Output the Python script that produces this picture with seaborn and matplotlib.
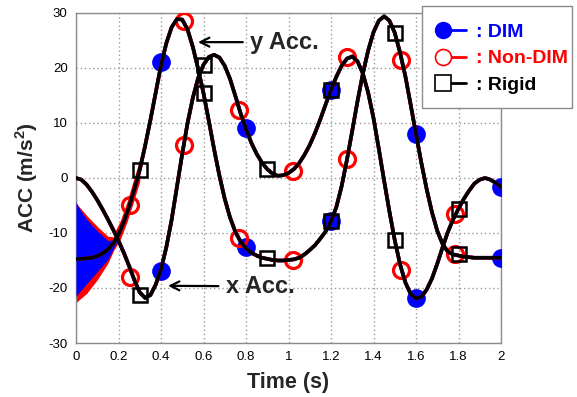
import numpy as np
import matplotlib
matplotlib.use("Agg")
import matplotlib.pyplot as plt
import seaborn as sns
from matplotlib.lines import Line2D
from matplotlib.patches import Rectangle
from matplotlib.legend_handler import HandlerBase

# ---------------- data ----------------
t = [0.000, 0.025, 0.050, 0.075, 0.100, 0.125, 0.150, 0.175, 0.200, 0.225,
     0.250, 0.275, 0.300, 0.325, 0.350, 0.375, 0.400, 0.425, 0.450, 0.475,
     0.500, 0.525, 0.550, 0.575, 0.600, 0.625, 0.650, 0.675, 0.700, 0.725,
     0.750, 0.775, 0.800, 0.825, 0.850, 0.875, 0.900, 0.925, 0.950, 0.975,
     1.000, 1.025, 1.050, 1.075, 1.100, 1.125, 1.150, 1.175, 1.200, 1.225,
     1.250, 1.275, 1.300, 1.325, 1.350, 1.375, 1.400, 1.425, 1.450, 1.475,
     1.500, 1.525, 1.550, 1.575, 1.600, 1.625, 1.650, 1.675, 1.700, 1.725,
     1.750, 1.775, 1.800, 1.825, 1.850, 1.875, 1.900, 1.925, 1.950, 1.975,
     2.000]

x_acc = [0.0, -0.3, -1.2, -2.5, -4.0, -5.7, -7.5, -9.4, -11.4, -13.6,
         -16.0, -18.6, -20.8, -21.8, -21.3, -19.4, -16.6, -12.6, -7.6, -1.6,
         4.4, 10.0, 14.6, 18.2, 20.6, 22.0, 22.4, 21.9, 20.4, 18.0,
         14.9, 11.7, 8.9, 6.4, 4.4, 2.8, 1.6, 0.8, 0.4, 0.5,
         0.9, 1.6, 2.7, 4.2, 6.0, 8.2, 10.7, 13.4, 16.0, 18.4,
         20.4, 21.7, 22.1, 21.2, 19.0, 15.5, 10.9, 5.3, -0.5, -6.1,
         -11.3, -15.7, -19.0, -21.1, -21.9, -21.6, -20.3, -18.3, -15.6, -12.6,
         -9.8, -7.5, -5.6, -3.8, -2.3, -1.0, -0.3, 0.0, -0.3, -0.9,
         -1.6]

y_acc = [-14.7, -14.7, -14.6, -14.5, -14.2, -13.7, -13.0, -11.9, -10.3, -8.0,
         -5.2, -2.0, 1.5, 5.8, 10.5, 15.5, 20.5, 24.5, 27.4, 28.9,
         28.8, 27.0, 23.8, 19.8, 15.4, 10.4, 5.2, 0.4, -3.8, -7.2,
         -9.8, -11.6, -12.8, -13.6, -14.1, -14.5, -14.7, -14.9, -15.0, -15.0,
         -14.9, -14.8, -14.5, -13.9, -13.1, -12.2, -11.0, -9.7, -7.9, -5.3,
         -1.5, 3.3, 8.6, 14.0, 19.0, 23.2, 26.5, 28.6, 29.4, 28.6,
         26.4, 22.8, 18.5, 13.3, 8.0, 2.8, -2.0, -6.2, -9.6, -12.0,
         -13.4, -13.9, -14.1, -14.3, -14.4, -14.5, -14.5, -14.5, -14.5, -14.5,
         -14.5]

# initial high-frequency oscillation band (envelopes)
t_band = [0.0, 0.01, 0.05, 0.10, 0.15, 0.20]
red_hi = [-4.5, -5.0, -6.8, -8.8, -10.6, -10.8]
red_lo = [-22.7, -22.3, -21.0, -18.5, -15.5, -11.2]
blue_hi = [-4.3, -5.2, -7.5, -9.6, -11.4, -11.0]
blue_lo = [-21.5, -21.0, -19.2, -17.0, -14.8, -11.0]
# residual Non-DIM ripple along the rising y curve
t_ripple = [0.18, 0.21, 0.24, 0.27, 0.30]
ripple_hi = [-10.0, -7.6, -4.3, -0.4, 3.4]
ripple_lo = [-13.0, -11.0, -8.0, -4.4, -0.6]

# marker samples
dim_t = [0.4, 0.8, 1.2, 1.6, 2.0]
dim_x = [-17.0, 9.1, 16.0, -21.9, -1.6]
dim_y = [21.0, -12.5, -7.9, 8.0, -14.5]

non_t = [0.255, 0.51, 0.765, 1.02, 1.275, 1.53, 1.785]
non_x = [-18.0, 6.0, 12.4, 1.3, 22.0, -16.7, -6.5]
non_y = [-4.9, 28.5, -10.9, -14.9, 3.5, 21.5, -13.9]

rig_t = [0.3, 0.6, 0.9, 1.2, 1.5, 1.8]
rig_x = [-21.3, 20.5, 1.6, 16.0, -11.3, -5.6]
rig_y = [1.5, 15.4, -14.6, -7.9, 26.4, -13.9]

x_ticks = [0, 0.2, 0.4, 0.6, 0.8, 1, 1.2, 1.4, 1.6, 1.8, 2]
x_tick_labels = ["0", "0.2", "0.4", "0.6", "0.8", "1", "1.2", "1.4", "1.6", "1.8", "2"]
y_ticks = [-30, -20, -10, 0, 10, 20, 30]
y_tick_labels = ["-30", "-20", "-10", "0", "10", "20", "30"]

legend_labels = [": DIM", ": Non-DIM", ": Rigid"]

# ---------------- style ----------------
sns.set_style("white")
plt.rcParams["font.family"] = ["Liberation Sans", "DejaVu Sans"]
plt.rcParams["axes.unicode_minus"] = False
plt.rcParams["mathtext.fontset"] = "custom"
plt.rcParams["mathtext.rm"] = "Liberation Sans"
plt.rcParams["mathtext.bf"] = "Liberation Sans:bold"

BLUE = "#0000FF"
RED = "#FF0000"
BLACK = "#000000"
GRAY = "#8C8C8C"
LW = 2.6
W, H = 577, 397
AX_L, AX_R, AX_T, AX_B = 76, 501, 13, 343

fig = plt.figure(figsize=(W / 100, H / 100), dpi=100)
ax = fig.add_axes([AX_L / W, 1 - AX_B / H, (AX_R - AX_L) / W, (AX_B - AX_T) / H])


def px_to_axes(px, py):
    return (px - AX_L) / (AX_R - AX_L), (AX_B - py) / (AX_B - AX_T)


# oscillation bands
ax.fill_between(t_band, red_lo, red_hi, color=RED, lw=0, zorder=2)
ax.fill_between(t_ripple, ripple_lo, ripple_hi, color=RED, lw=0, zorder=2)
ax.fill_between(t_band, blue_lo, blue_hi, color=BLUE, lw=0, zorder=3)

# DIM lines + markers
for yy in (x_acc, y_acc):
    sns.lineplot(x=t, y=yy, color=BLUE, lw=LW, estimator=None, sort=False, ax=ax, zorder=3)
for yy in (dim_x, dim_y):
    sns.lineplot(x=dim_t, y=yy, ax=ax, estimator=None, sort=False, linestyle="none",
                 marker="o", markersize=13.5, markerfacecolor=BLUE, markeredgecolor=BLUE,
                 markeredgewidth=0, color=BLUE, zorder=4)
# Non-DIM lines + markers
for yy in (x_acc, y_acc):
    sns.lineplot(x=t, y=yy, color=RED, lw=LW, estimator=None, sort=False, ax=ax, zorder=5)
for yy in (non_x, non_y):
    sns.lineplot(x=non_t, y=yy, ax=ax, estimator=None, sort=False, linestyle="none",
                 marker="o", markersize=11.5, markerfacecolor="none", markeredgecolor=RED,
                 markeredgewidth=2.3, color=RED, zorder=6)
# Rigid lines + markers
for yy in (x_acc, y_acc):
    sns.lineplot(x=t, y=yy, color=BLACK, lw=LW, estimator=None, sort=False, ax=ax, zorder=7)
for yy in (rig_x, rig_y):
    sns.lineplot(x=rig_t, y=yy, ax=ax, estimator=None, sort=False, linestyle="none",
                 marker="s", markersize=10, markerfacecolor="none", markeredgecolor=BLACK,
                 markeredgewidth=1.8, color=BLACK, zorder=8)

# axes
ax.set_xlim(0, 2)
ax.set_ylim(-30, 30)
ax.set_xticks(x_ticks)
ax.set_xticklabels(x_tick_labels)
ax.set_yticks(y_ticks)
ax.set_yticklabels(y_tick_labels)
ax.tick_params(direction="in", length=4, color=GRAY, labelsize=9.5, pad=6, labelcolor="black")
ax.grid(True, color="#999999", linestyle=(0, (1, 2)), linewidth=1)
for sp in ax.spines.values():
    sp.set_color(GRAY)
    sp.set_linewidth(1)
    sp.set_visible(True)

ax.set_xlabel("Time (s)", fontsize=15.5, fontweight="bold", labelpad=6)
ax.set_ylabel(r"ACC (m/s$^\mathbf{2}$)", fontsize=15, fontweight="bold", labelpad=6)

# annotations
ax.annotate("y Acc.", xy=(0.574, 24.7), xytext=(0.82, 24.7), fontsize=17, fontweight="bold",
            ha="left", va="center", zorder=10,
            arrowprops=dict(arrowstyle="->", color="black", lw=1.6, mutation_scale=16,
                            shrinkA=3, shrinkB=0))
ax.annotate("x Acc.", xy=(0.433, -19.6), xytext=(0.705, -19.7), fontsize=17, fontweight="bold",
            ha="left", va="center", zorder=10,
            arrowprops=dict(arrowstyle="->", color="black", lw=1.6, mutation_scale=16,
                            shrinkA=3, shrinkB=0))


# legend: marker at the left end of a short line
class LeftMarkerHandler(HandlerBase):
    def create_artists(self, legend, orig_handle, xdescent, ydescent, width, height,
                       fontsize, trans):
        y = height / 2 - ydescent
        x0 = -xdescent + 0.395 * width
        line = Line2D([x0, -xdescent + width], [y, y], color=orig_handle.get_color(),
                      lw=orig_handle.get_linewidth())
        mk = Line2D([x0], [y], linestyle="none", marker=orig_handle.get_marker(),
                    markersize=orig_handle.get_markersize(),
                    markerfacecolor=orig_handle.get_markerfacecolor(),
                    markeredgecolor=orig_handle.get_markeredgecolor(),
                    markeredgewidth=orig_handle.get_markeredgewidth())
        line.set_transform(trans)
        mk.set_transform(trans)
        return [line, mk]


# legend frame box (drawn separately for asymmetric padding)
bx0, by0 = px_to_axes(422, 108)
bx1, by1 = px_to_axes(572, 6)
ax.add_patch(Rectangle((bx0, by0), bx1 - bx0, by1 - by0, transform=ax.transAxes,
                       facecolor="white", edgecolor=GRAY, lw=1, clip_on=False, zorder=19))

handles = [
    Line2D([], [], color=BLUE, lw=2, marker="o", markersize=11.5,
           markerfacecolor=BLUE, markeredgecolor=BLUE, markeredgewidth=1),
    Line2D([], [], color=RED, lw=2, marker="o", markersize=11.5,
           markerfacecolor="white", markeredgecolor=RED, markeredgewidth=1.2),
    Line2D([], [], color=BLACK, lw=2, marker="s", markersize=11,
           markerfacecolor="white", markeredgecolor=BLACK, markeredgewidth=1.2),
]
lx, ly = px_to_axes(428, 23)
leg = ax.legend(handles, legend_labels, loc="upper left", bbox_to_anchor=(lx, ly),
                borderaxespad=0, frameon=False, prop={"weight": "bold", "size": 14},
                handlelength=1.955, handletextpad=0.51, labelspacing=0.475, borderpad=0,
                handler_map={Line2D: LeftMarkerHandler()})
leg.set_zorder(20)
for txt, c in zip(leg.get_texts(), [BLUE, RED, BLACK]):
    txt.set_color(c)

fig.savefig("out.png", dpi=100, facecolor="white")
